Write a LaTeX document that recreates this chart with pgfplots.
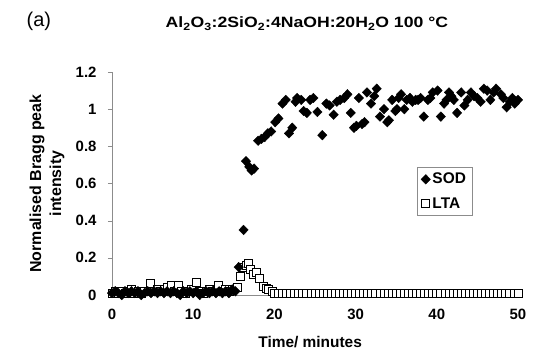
\documentclass[border=0pt]{standalone}
\usepackage{pgfplots}
\pgfplotsset{compat=1.18}
\usepackage{fontspec}
\setmainfont{Liberation Sans}
\newfontfamily\widefont[FakeStretch=1.18]{Liberation Sans}
\definecolor{axgray}{RGB}{140,140,140}
\begin{document}
\begin{tikzpicture}
\path[use as bounding box] (-112bp,-60bp) rectangle (422bp,295bp);
\begin{axis}[
  scale only axis,
  width=406bp, height=223bp,
  xmin=0, xmax=50, ymin=0, ymax=1.2,
  xtick={0,10,20,30,40,50},
  ytick={0,0.2,0.4,0.6,0.8,1,1.2},
  axis x line=bottom, axis y line=left,
  axis line style={axgray, -},
  tick style={axgray},
  tick align=outside,
  major tick length=4bp,
  xtick style={draw=none},
  clip=false,
  /pgf/number format/assume math mode=true,
  ticklabel style={font=\fontsize{15}{17}\selectfont\bfseries},
  xticklabel style={yshift=-7bp},
  yticklabel style={xshift=-8bp},
  xlabel={Time/ minutes},
  xlabel style={font=\fontsize{15.5}{17}\selectfont\bfseries, at={(axis description cs:0.488,-0.211)}, anchor=center},
  ylabel={Normalised Bragg peak\\intensity},
  ylabel style={font=\fontsize{16}{20}\selectfont\bfseries, align=center, at={(axis description cs:-0.16,0.5)}, anchor=center},
  title={Al\textsubscript{2}O\textsubscript{3}:2SiO\textsubscript{2}:4NaOH:20H\textsubscript{2}O 100 °C},
  title style={font=\widefont\fontsize{15}{17}\selectfont\bfseries, at={(axis description cs:0.48,1.19)}, anchor=center},
  legend style={at={(axis description cs:0.751,0.574)}, anchor=north west, draw=axgray, font=\fontsize{15.5}{17}\selectfont\bfseries, row sep=8bp, inner sep=4bp},
  legend cell align=left,
  reverse legend,
]
\addplot[only marks, mark=square*, mark size=4bp, mark options={fill=white, draw=black, line width=0.8bp}] coordinates {
(0,0.01)(0.4,0.02)(0.8,0.01)(1.2,0.02)(1.6,0.01)(2.0,0.02)(2.4,0.03)(2.8,0.01)(3.2,0.02)(3.6,0.01)
(4.0,0.02)(4.7,0.06)(5.2,0.02)(5.6,0.03)(6.0,0.02)(6.4,0.03)(6.8,0.04)(7.3,0.05)(7.7,0.02)(8.2,0.05)
(8.6,0.02)(9.0,0.01)(9.4,0.02)(9.8,0.03)(10.4,0.07)(10.8,0.02)(11.2,0.01)(11.6,0.02)(12.0,0.03)
(12.4,0.02)(13.1,0.05)(13.6,0.02)(14.0,0.03)(14.4,0.02)(14.8,0.03)(15.4,0.04)
(15.8,0.10)(16.2,0.15)(16.5,0.16)(16.8,0.17)(17.1,0.14)(17.4,0.11)(17.8,0.12)(18.2,0.09)(18.6,0.045)
(19.0,0.035)(19.3,0.03)(19.7,0.02)
(20.0,0.01)(20.5,0.01)(21.0,0.01)(21.5,0.01)(22.0,0.01)(22.5,0.01)(23.0,0.01)(23.5,0.01)(24.0,0.01)
(24.5,0.01)(25.0,0.01)(25.5,0.01)(26.0,0.01)(26.5,0.01)(27.0,0.01)(27.5,0.01)(28.0,0.01)(28.5,0.01)
(29.0,0.01)(29.5,0.01)(30.0,0.01)(30.5,0.01)(31.0,0.01)(31.5,0.01)(32.0,0.01)(32.5,0.01)(33.0,0.01)
(33.5,0.01)(34.0,0.01)(34.5,0.01)(35.0,0.01)(35.5,0.01)(36.0,0.01)(36.5,0.01)(37.0,0.01)(37.5,0.01)
(38.0,0.01)(38.5,0.01)(39.0,0.01)(39.5,0.01)(40.0,0.01)(40.5,0.01)(41.0,0.01)(41.5,0.01)(42.0,0.01)
(42.5,0.01)(43.0,0.01)(43.5,0.01)(44.0,0.01)(44.5,0.01)(45.0,0.01)(45.5,0.01)(46.0,0.01)(46.5,0.01)
(47.0,0.01)(47.5,0.01)(48.0,0.01)(48.5,0.01)(49.0,0.01)(49.5,0.01)(50.0,0.01)
};
\addlegendentry{LTA}
\addplot[only marks, mark=diamond*, mark size=4.8bp, mark options={xscale=1.3, fill=black, draw=black}] coordinates {
(0,0.01)(0.4,0.02)(0.8,0.01)(1.2,0.0)(1.6,0.02)(2.0,0.01)(2.4,0.02)(2.8,0.01)(3.2,0.02)(3.6,0.0)
(4.0,0.01)(4.4,0.02)(4.8,0.01)(5.2,0.02)(5.6,0.01)(6.0,0.02)(6.4,0.01)(6.8,0.02)(7.2,0.01)(7.6,0.02)
(8.0,0.01)(8.4,0.0)(8.8,0.02)(9.2,0.01)(9.6,0.02)(10.0,0.01)(10.4,0.02)(10.8,0.0)(11.2,0.01)(11.6,0.02)
(12.0,0.01)(12.4,0.02)(12.8,0.01)(13.2,0.02)(13.6,0.01)(14.0,0.02)(14.4,0.01)(14.8,0.03)(15.2,0.02)
(15.6,0.15)(16.2,0.35)(16.5,0.72)(16.9,0.69)(17.2,0.67)(17.5,0.68)(18.0,0.83)(18.4,0.84)(18.8,0.85)
(19.2,0.87)(19.6,0.88)(20.1,0.93)(20.5,0.95)(21.0,1.03)(21.4,1.05)(21.8,0.87)(22.2,0.90)(22.6,1.04)
(22.8,1.06)(23.3,1.05)(23.6,0.99)(24.0,0.98)(24.4,1.05)(24.8,1.06)(25.3,0.985)(25.9,0.86)(26.4,1.03)
(26.8,1.02)(27.3,0.97)(27.7,1.04)(28.1,1.05)(28.6,1.06)(29.0,1.08)(29.4,0.98)(29.8,0.90)(30.1,0.91)
(30.4,1.06)(30.8,0.92)(31.1,0.93)(31.4,1.09)(31.9,1.03)(32.3,1.07)(32.6,1.11)(33.0,0.96)(33.5,1.00)
(33.9,0.93)(34.1,0.94)(34.5,1.05)(34.9,0.99)(35.1,1.00)(35.3,1.06)(35.6,1.08)(36.0,1.00)(36.3,1.05)
(36.7,1.06)(37.0,1.04)(37.4,1.05)(37.7,1.05)(38.0,1.06)(38.4,0.96)(38.9,1.05)(39.2,1.06)(39.5,1.09)
(40.1,1.10)(40.5,0.96)(40.9,1.03)(41.2,1.05)(41.5,1.09)(41.8,1.07)(42.1,1.05)(42.5,0.98)(43.0,1.09)
(43.4,1.02)(43.8,1.05)(44.2,1.09)(44.6,1.07)(45.0,1.06)(45.4,1.04)(45.8,1.11)(46.2,1.10)(46.6,1.05)
(47.0,1.09)(47.3,1.11)(47.9,1.08)(48.2,1.06)(48.6,1.01)(49.0,1.04)(49.3,1.06)(49.6,1.03)(50.0,1.05)
};
\addlegendentry{SOD}
\node[font=\fontsize{20}{22}\selectfont] at (axis description cs:-0.18,1.225) {(a)};
\end{axis}
\end{tikzpicture}
\end{document}
